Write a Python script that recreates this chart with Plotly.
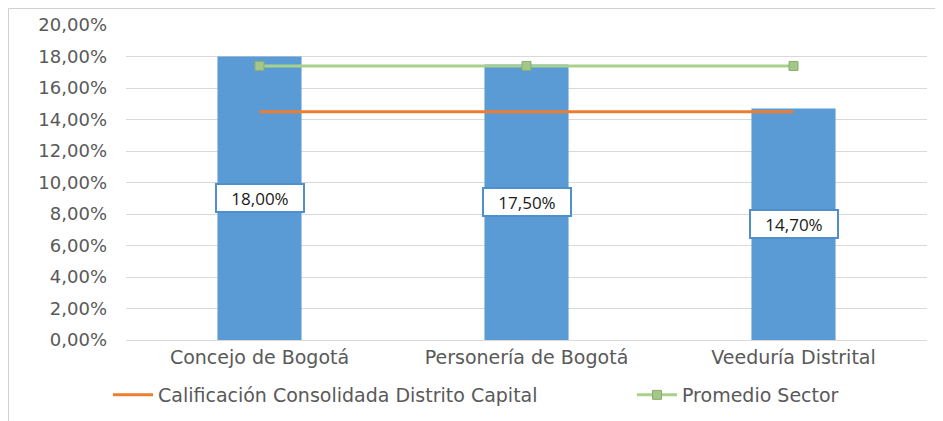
import plotly.graph_objects as go

categories = ["Concejo de Bogotá", "Personería de Bogotá", "Veeduría Distrital"]
bar_values = [0.18, 0.175, 0.147]
consolidada = [0.145, 0.145, 0.145]
promedio = [0.174, 0.174, 0.174]
y_ticks = [0.0, 0.02, 0.04, 0.06, 0.08, 0.10, 0.12, 0.14, 0.16, 0.18, 0.20]

OFF = 8  # page body margin
W, H = 943 - OFF, 421 - OFF
ml = 126 - OFF
mt = 25 - OFF
mr = W - (927 - OFF)
mb = H - (340 - OFF)
pw, ph = W - ml - mr, H - mt - mb

def px_x(p):
    return (p - OFF - ml) / pw

def px_y(p):
    return (H - mb - (p - OFF)) / ph

fig = go.Figure()
fig.add_trace(go.Bar(
    x=categories, y=bar_values, marker=dict(color="#5b9bd5", line=dict(width=0)),
    width=0.315, showlegend=False, hoverinfo="y"))
fig.add_trace(go.Scatter(
    x=categories, y=consolidada, mode="lines", name="Calificación Consolidada Distrito Capital",
    line=dict(color="#ed7d31", width=3), legend="legend"))
fig.add_trace(go.Scatter(
    x=categories, y=promedio, mode="lines+markers", name="Promedio Sector",
    line=dict(color="#a9d18e", width=3),
    marker=dict(symbol="square", size=9, color="#a3c788", line=dict(color="#8aad6e", width=1)),
    legend="legend2"))

for c, v in zip(categories, bar_values):
    fig.add_annotation(
        x=c, y=v / 2, text=f"{v*100:.2f}".replace(".", ",") + "%", showarrow=False,
        font=dict(family="Open Sans, sans-serif", size=17, color="#1a1a1a"),
        bgcolor="#ffffff", bordercolor="#4f8fcb", borderwidth=2, borderpad=2,
        width=82, height=22)

fig.add_shape(type="rect", xref="paper", yref="paper",
              x0=px_x(8.5), x1=px_x(943 + 5), y0=px_y(421 + 5), y1=px_y(8.5),
              line=dict(color="#d0d0d0", width=1), fillcolor="rgba(0,0,0,0)", layer="below")

legend_font = dict(size=19, color="#595959")
fig.update_layout(
    width=W, height=H,
    margin=dict(l=ml, r=mr, t=mt, b=mb, autoexpand=False),
    paper_bgcolor="#ffffff", plot_bgcolor="#ffffff",
    separators=",.",
    font=dict(family="DejaVu Sans, Arial, sans-serif", color="#595959"),
    xaxis=dict(showgrid=False, showline=True, linecolor="#d9d9d9", linewidth=1,
               tickfont=dict(size=19, color="#595959"), ticks="", ticklabelstandoff=0,
               range=[-0.5, 2.5]),
    yaxis=dict(range=[0, 0.2], tickvals=y_ticks, tickformat=".2%", showgrid=True,
               gridcolor="#d9d9d9", gridwidth=1, zeroline=False, showline=False,
               tickfont=dict(size=18, color="#595959"), ticklabelstandoff=18),
    legend=dict(orientation="h", x=px_x(108), xanchor="left", y=px_y(395), yanchor="middle",
                font=legend_font, bgcolor="rgba(0,0,0,0)", itemwidth=40),
    legend2=dict(orientation="h", x=px_x(632), xanchor="left", y=px_y(395), yanchor="middle",
                 font=legend_font, bgcolor="rgba(0,0,0,0)", itemwidth=40),
)

fig.write_html("out.html")
